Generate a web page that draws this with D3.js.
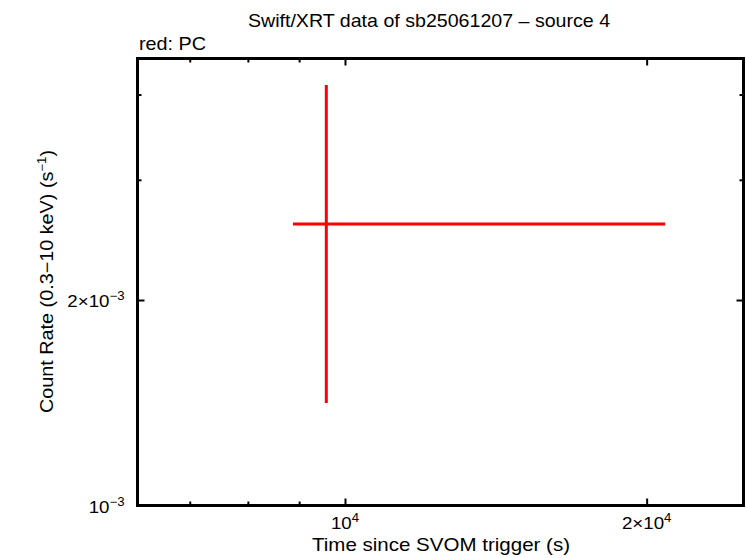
<!DOCTYPE html>
<html>
<head>
<meta charset="utf-8">
<script src="https://cdn.jsdelivr.net/npm/d3@7/dist/d3.min.js"></script>
<style>
  html, body { margin: 0; padding: 0; background: #fff; }
  svg { display: block; font-family: "Liberation Sans", Arial, Helvetica, sans-serif; }
</style>
</head>
<body>
<svg id="chart" width="746" height="558"></svg>
<script>
// ---- data ----
const times   = [9580];
const timeLo  = [8873];
const timeHi  = [20868];
const rates   = [2.584e-3];
const rateLo  = [1.413e-3];
const rateHi  = [4.13e-3];

const xDomain = [6208, 24985];
const yDomain = [1e-3, 4.517e-3];
const xMajorTicks = [1e4, 2e4];
const xMajorLabels = [["10", "4"], ["2×10", "4"]];
const xMinorTicks = [7000, 8000, 9000];
const yMajorTicks = [1e-3, 2e-3];
const yMajorLabels = [["10", "−3"], ["2×10", "−3"]];
const yMinorTicks = [3e-3, 4e-3];

const titleText = "Swift/XRT data of sb25061207 – source 4";
const legendText = "red: PC";
const xLabelText = "Time since SVOM trigger (s)";

// ---- layout ----
const svg = d3.select("#chart");
const L = 137.5, R = 743.5, T = 58.5, B = 505.5;

const x = d3.scaleLog().domain(xDomain).range([L, R]);
const y = d3.scaleLog().domain(yDomain).range([B, T]);

// frame
svg.append("rect")
  .attr("x", L).attr("y", T).attr("width", R - L).attr("height", B - T)
  .attr("fill", "none").attr("stroke", "#000").attr("stroke-width", 3);

function styleAxis(g) {
  g.select(".domain").remove();
  g.selectAll(".tick line").attr("stroke", "#000").attr("stroke-width", 2);
  g.selectAll(".tick text").remove();
}

// axes (ticks inward, on all four sides)
const majorLen = 7, minorLen = 4;
[[d3.axisBottom, B], [d3.axisTop, T]].forEach(([ax, pos]) => {
  svg.append("g").attr("transform", `translate(0,${pos})`)
    .call(ax(x).tickValues(xMajorTicks).tickSize(-majorLen).tickFormat(""))
    .call(styleAxis);
  svg.append("g").attr("transform", `translate(0,${pos})`)
    .call(ax(x).tickValues(xMinorTicks).tickSize(-minorLen).tickFormat(""))
    .call(styleAxis);
});
[[d3.axisLeft, L], [d3.axisRight, R]].forEach(([ax, pos]) => {
  svg.append("g").attr("transform", `translate(${pos},0)`)
    .call(ax(y).tickValues(yMajorTicks).tickSize(-majorLen).tickFormat(""))
    .call(styleAxis);
  svg.append("g").attr("transform", `translate(${pos},0)`)
    .call(ax(y).tickValues(yMinorTicks).tickSize(-minorLen).tickFormat(""))
    .call(styleAxis);
});

// text helper: horizontally widened text anchored at (px,py)
function label(px, py, anchor, size, sx, rot) {
  return svg.append("text")
    .attr("transform", `translate(${px},${py})${rot ? " rotate(" + rot + ")" : ""} scale(${sx},1)`)
    .attr("text-anchor", anchor).attr("font-size", size);
}

// tick labels with superscripts
const fs = 17, sup = 12;
xMajorTicks.forEach((v, i) => {
  const t = label(x(v), B + 23, "middle", fs, 1.1);
  t.append("tspan").text(xMajorLabels[i][0]);
  t.append("tspan").attr("font-size", sup).attr("dy", -7).text(xMajorLabels[i][1]);
});
yMajorTicks.forEach((v, i) => {
  const t = label(L - 13, y(v) + 7, "end", fs, 1.1);
  t.append("tspan").text(yMajorLabels[i][0]);
  t.append("tspan").attr("font-size", sup).attr("dy", -7).text(yMajorLabels[i][1]);
});

// titles
label(429, 27, "middle", 18, 1.09).text(titleText);
label(139, 50, "start", 18, 1.1).text(legendText);
label(441, 551, "middle", 18, 1.14).text(xLabelText);

const yl = label(53, 281.5, "middle", 18, 1.1, -90);
yl.append("tspan").text("Count Rate (0.3−10 keV) (s");
yl.append("tspan").attr("font-size", 12).attr("dy", -7).text("−1");
yl.append("tspan").attr("dy", 7).text(")");

// data: error bars
const pts = times.map((t, i) => ({ t, lo: timeLo[i], hi: timeHi[i], r: rates[i], rlo: rateLo[i], rhi: rateHi[i] }));
const g = svg.append("g").attr("stroke", "#ff0000").attr("stroke-width", 3);
g.selectAll("line.h").data(pts).join("line").attr("class", "h")
  .attr("x1", d => x(d.lo)).attr("x2", d => x(d.hi))
  .attr("y1", d => y(d.r)).attr("y2", d => y(d.r));
g.selectAll("line.v").data(pts).join("line").attr("class", "v")
  .attr("x1", d => x(d.t)).attr("x2", d => x(d.t))
  .attr("y1", d => y(d.rlo)).attr("y2", d => y(d.rhi));
</script>
</body>
</html>
